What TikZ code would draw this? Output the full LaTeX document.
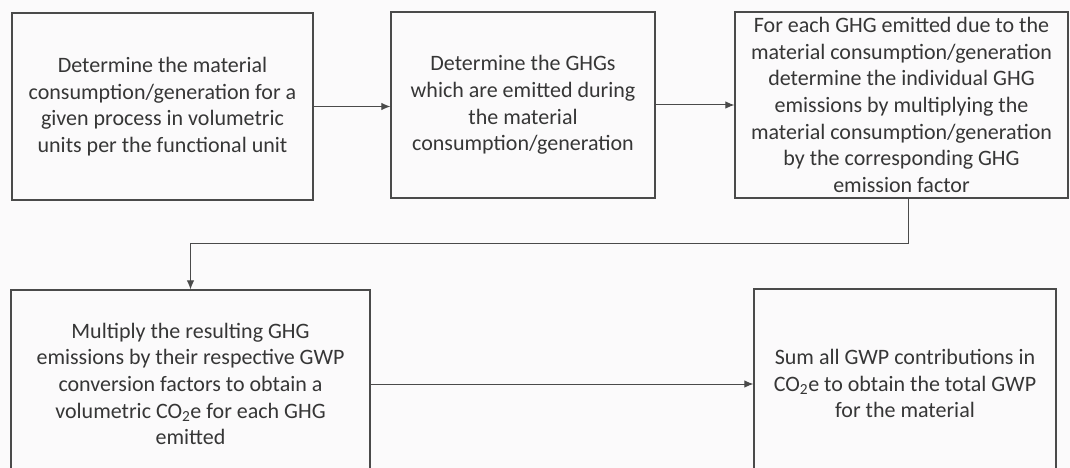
\documentclass[tikz,border=0pt]{standalone}
\usepackage{fontspec}
\setmainfont{Carlito}
\usetikzlibrary{arrows.meta}
\definecolor{pagebg}{HTML}{FBFAFB}
\definecolor{framecol}{HTML}{4A4A4A}
\definecolor{textcol}{HTML}{363636}
\tikzset{
  stepbox/.style={draw=framecol, line width=1.3pt, fill=pagebg, inner sep=0pt,
    align=center, text=textcol, font=\fontsize{22}{26.6}\selectfont},
  flow/.style={draw=framecol, line width=1pt,
    -{Latex[length=9pt,width=7.5pt]}}
}
\begin{document}
\begin{tikzpicture}[x=1pt,y=-1pt]
  \useasboundingbox (0,0) rectangle (1070,468);
  \fill[pagebg] (0,0) rectangle (1070,468);
  \clip (0,0) rectangle (1070,468);

  \node[stepbox, minimum width=301, minimum height=187] (b1) at (162.5,106.5)
    {Determine the material\\consumption/generation for a\\given process in volumetric\\units per the functional unit};
  \node[stepbox, minimum width=264, minimum height=186] (b2) at (523,105)
    {Determine the GHGs\\which are emitted during\\the material\\consumption/generation};
  \node[stepbox, minimum width=333, minimum height=186] (b3) at (901.5,105)
    {For each GHG emitted due to the\\material consumption/generation\\determine the individual GHG\\emissions by multiplying the\\material consumption/generation\\by the corresponding GHG\\emission factor};
  \node[stepbox, minimum width=359, minimum height=188] (b4) at (190.5,384)
    {Multiply the resulting GHG\\emissions by their respective GWP\\conversion factors to obtain a\\volumetric CO\textsubscript{2}e for each GHG\\emitted};
  \node[stepbox, minimum width=302, minimum height=189] (b5) at (905,383.5)
    {Sum all GWP contributions in\\CO\textsubscript{2}e to obtain the total GWP\\for the material};

  \coordinate (turn) at (908,243);
  \draw[flow] (b1.east) -- (b1.east -| b2.west);
  \draw[flow] (b2.east) -- (b2.east -| b3.west);
  \draw[flow] (b3.south -| turn) -- (turn) -| (b4.north);
  \draw[flow] (b4.east) -- (b4.east -| b5.west);
\end{tikzpicture}
\end{document}
